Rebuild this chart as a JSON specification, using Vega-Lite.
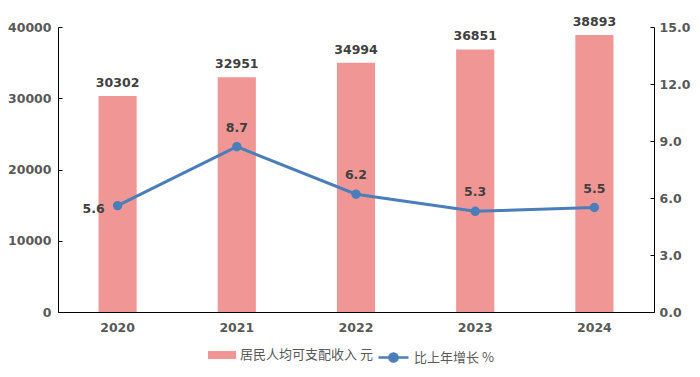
{
  "$schema": "https://vega.github.io/schema/vega-lite/v6.json",
  "width": 596,
  "height": 285,
  "autosize": {"type": "none"},
  "padding": {"left": 58, "top": 27, "right": 46, "bottom": 65},
  "background": "white",
  "config": {
    "view": {"stroke": null},
    "font": "DejaVu Sans",
    "axis": {
      "grid": false,
      "domainColor": "#000000",
      "domainWidth": 1,
      "tickColor": "#000000",
      "labelColor": "#595959",
      "labelFont": "DejaVu Sans",
      "labelFontWeight": "bold",
      "labelFontSize": 12.5,
      "title": null
    }
  },
  "data": {
    "values": [
      {"year": "2020", "income": 30302, "growth": 5.6},
      {"year": "2021", "income": 32951, "growth": 8.7},
      {"year": "2022", "income": 34994, "growth": 6.2},
      {"year": "2023", "income": 36851, "growth": 5.3},
      {"year": "2024", "income": 38893, "growth": 5.5}
    ]
  },
  "encoding": {
    "x": {
      "field": "year",
      "type": "nominal",
      "sort": null,
      "scale": {"paddingInner": 0.68, "paddingOuter": 0.34},
      "axis": {"labelAngle": 0, "ticks": false, "labelPadding": 9}
    }
  },
  "layer": [
    {
      "layer": [
        {
          "mark": {"type": "bar"},
          "encoding": {
            "y": {
              "field": "income",
              "type": "quantitative",
              "scale": {"domain": [0, 40000]},
              "axis": {"values": [0, 10000, 20000, 30000, 40000], "tickSize": -4, "labelPadding": 11, "format": "d"}
            },
            "fill": {
              "datum": "居民人均可支配收入 元",
              "type": "nominal",
              "scale": {"range": ["#F09795"]},
              "legend": {
                "orient": "none",
                "legendX": 150,
                "legendY": 314,
                "title": null,
                "symbolType": "M-1,-0.29H1V0.29H-1Z",
                "symbolSize": 784,
                "symbolStrokeWidth": 0,
                "labelFont": "Noto Sans CJK SC",
                "labelFontSize": 13,
                "labelColor": "#595959",
                "labelOffset": 4,
                "padding": 0
              }
            }
          }
        },
        {
          "mark": {"type": "text", "baseline": "bottom", "dy": -6, "font": "DejaVu Sans", "fontWeight": "bold", "fontSize": 12.5, "color": "#404040"},
          "encoding": {
            "y": {"field": "income", "type": "quantitative", "scale": {"domain": [0, 40000]}},
            "text": {"field": "income", "type": "quantitative", "format": "d"}
          }
        }
      ]
    },
    {
      "layer": [
        {
          "mark": {"type": "line", "strokeWidth": 3, "point": {"filled": true, "size": 55, "color": "#4A7EBB"}},
          "encoding": {
            "y": {
              "field": "growth",
              "type": "quantitative",
              "scale": {"domain": [0, 15]},
              "axis": {"orient": "right", "values": [0, 3, 6, 9, 12, 15], "format": ".1f", "tickSize": -4, "labelPadding": 9}
            },
            "stroke": {
              "datum": "比上年增长 %",
              "type": "nominal",
              "scale": {"range": ["#4A7EBB"]},
              "legend": {
                "orient": "none",
                "legendX": 319,
                "legendY": 314,
                "title": null,
                "symbolType": "M-1,0H1M0.27,0A0.27,0.27,0,1,1,-0.27,0A0.27,0.27,0,1,1,0.27,0Z",
                "symbolSize": 900,
                "symbolStrokeWidth": 2.5,
                "symbolFillColor": "#4A7EBB",
                "labelFont": "Noto Sans CJK SC",
                "labelFontSize": 13,
                "labelColor": "#595959",
                "labelOffset": 4,
                "padding": 0
              }
            }
          }
        },
        {
          "transform": [{"filter": "datum.year != '2020'"}],
          "mark": {"type": "text", "baseline": "bottom", "dy": -12, "font": "DejaVu Sans", "fontWeight": "bold", "fontSize": 12.5, "color": "#404040"},
          "encoding": {
            "y": {"field": "growth", "type": "quantitative", "scale": {"domain": [0, 15]}},
            "text": {"field": "growth", "type": "quantitative", "format": ".1f"}
          }
        },
        {
          "transform": [{"filter": "datum.year == '2020'"}],
          "mark": {"type": "text", "align": "right", "baseline": "middle", "dx": -13, "dy": 3, "font": "DejaVu Sans", "fontWeight": "bold", "fontSize": 12.5, "color": "#404040"},
          "encoding": {
            "y": {"field": "growth", "type": "quantitative", "scale": {"domain": [0, 15]}},
            "text": {"field": "growth", "type": "quantitative", "format": ".1f"}
          }
        }
      ]
    }
  ],
  "resolve": {"scale": {"y": "independent"}}
}
